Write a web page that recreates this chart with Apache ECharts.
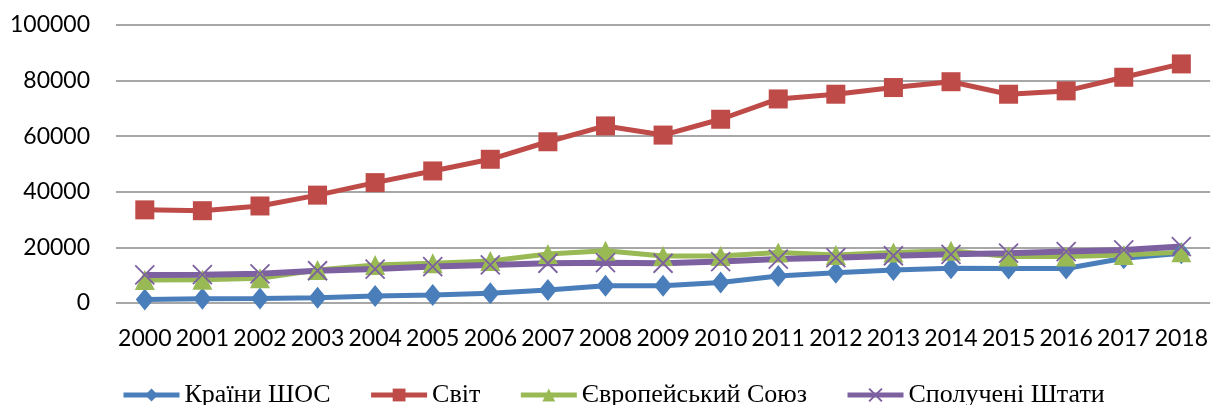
<!DOCTYPE html>
<html>
<head>
<meta charset="utf-8">
<script src="https://cdn.jsdelivr.net/npm/echarts@6/dist/echarts.min.js"></script>
<style>
html,body{margin:0;padding:0;background:#fff;}
#chart{width:1211px;height:405px;}
</style>
</head>
<body>
<div id="chart"></div>
<script>
const years = ['2000','2001','2002','2003','2004','2005','2006','2007','2008','2009','2010','2011','2012','2013','2014','2015','2016','2017','2018'];
const sco = [1300,1500,1600,1900,2500,2900,3500,4700,6200,6200,7400,9700,10900,11900,12500,12400,12400,16100,17900];
const world = [33500,33200,34900,38800,43300,47500,51700,58000,63700,60400,66100,73400,75100,77500,79600,75100,76300,81200,86000];
const eu = [8300,8400,8900,11900,13700,14300,15100,17600,18800,16900,16900,18200,17300,18200,18800,16700,16700,17300,18300];
const usa = [10100,10200,10500,11600,12200,13100,13700,14300,14500,14300,14900,15800,16300,17000,17500,17900,18500,19100,20300];
const seriesNames = ['Країни ШОС','Світ','Європейський Союз','Сполучені Штати'];
const yTicks = {min:0, max:100000, interval:20000};

const colors = ['#4A7EBB','#BE4B48','#98B954','#7D60A0'];
const chart = echarts.init(document.getElementById('chart'));
const crossPath = 'path://M0,0L10,10M10,0L0,10';
function mk(name, data, color, symbol, size, extra){
  return Object.assign({
    name, type:'line', data,
    symbol, symbolSize:size,
    lineStyle:{color, width:5},
    itemStyle:{color, borderColor:color, borderWidth:0},
    emphasis:{disabled:true},
    animation:false
  }, extra||{});
}
chart.setOption({
  animation:false,
  grid:{left:116, right:0, top:25, bottom:102, containLabel:false},
  legend:{
    left:116, top:377, itemGap:38, itemWidth:56, itemHeight:16,
    lineStyle:{width:5},
    textStyle:{fontFamily:'Liberation Serif', fontSize:26, color:'#000'},
    data:seriesNames
  },
  xAxis:{
    type:'category', data:years, boundaryGap:true,
    axisLine:{show:false}, axisTick:{show:false},
    axisLabel:{fontFamily:'Lato', fontSize:23, color:'#000', margin:24, interval:0}
  },
  yAxis:{
    type:'value', min:yTicks.min, max:yTicks.max, interval:yTicks.interval,
    axisLine:{show:false}, axisTick:{show:false},
    axisLabel:{fontFamily:'Lato', fontSize:23, color:'#000', margin:26, formatter:v=>String(v)},
    splitLine:{lineStyle:{color:'#8a8a8a', width:1.5}}
  },
  series:[
    mk(seriesNames[0], sco, colors[0], 'diamond', [18,22]),
    mk(seriesNames[1], world, colors[1], 'rect', 19),
    mk(seriesNames[2], eu, colors[2], 'triangle', [20,20]),
    mk(seriesNames[3], usa, colors[3], crossPath, 19, {
      lineStyle:{color:colors[3], width:6},
      itemStyle:{color:'none', borderColor:colors[3], borderWidth:1.8}
    })
  ]
});
</script>
</body>
</html>
